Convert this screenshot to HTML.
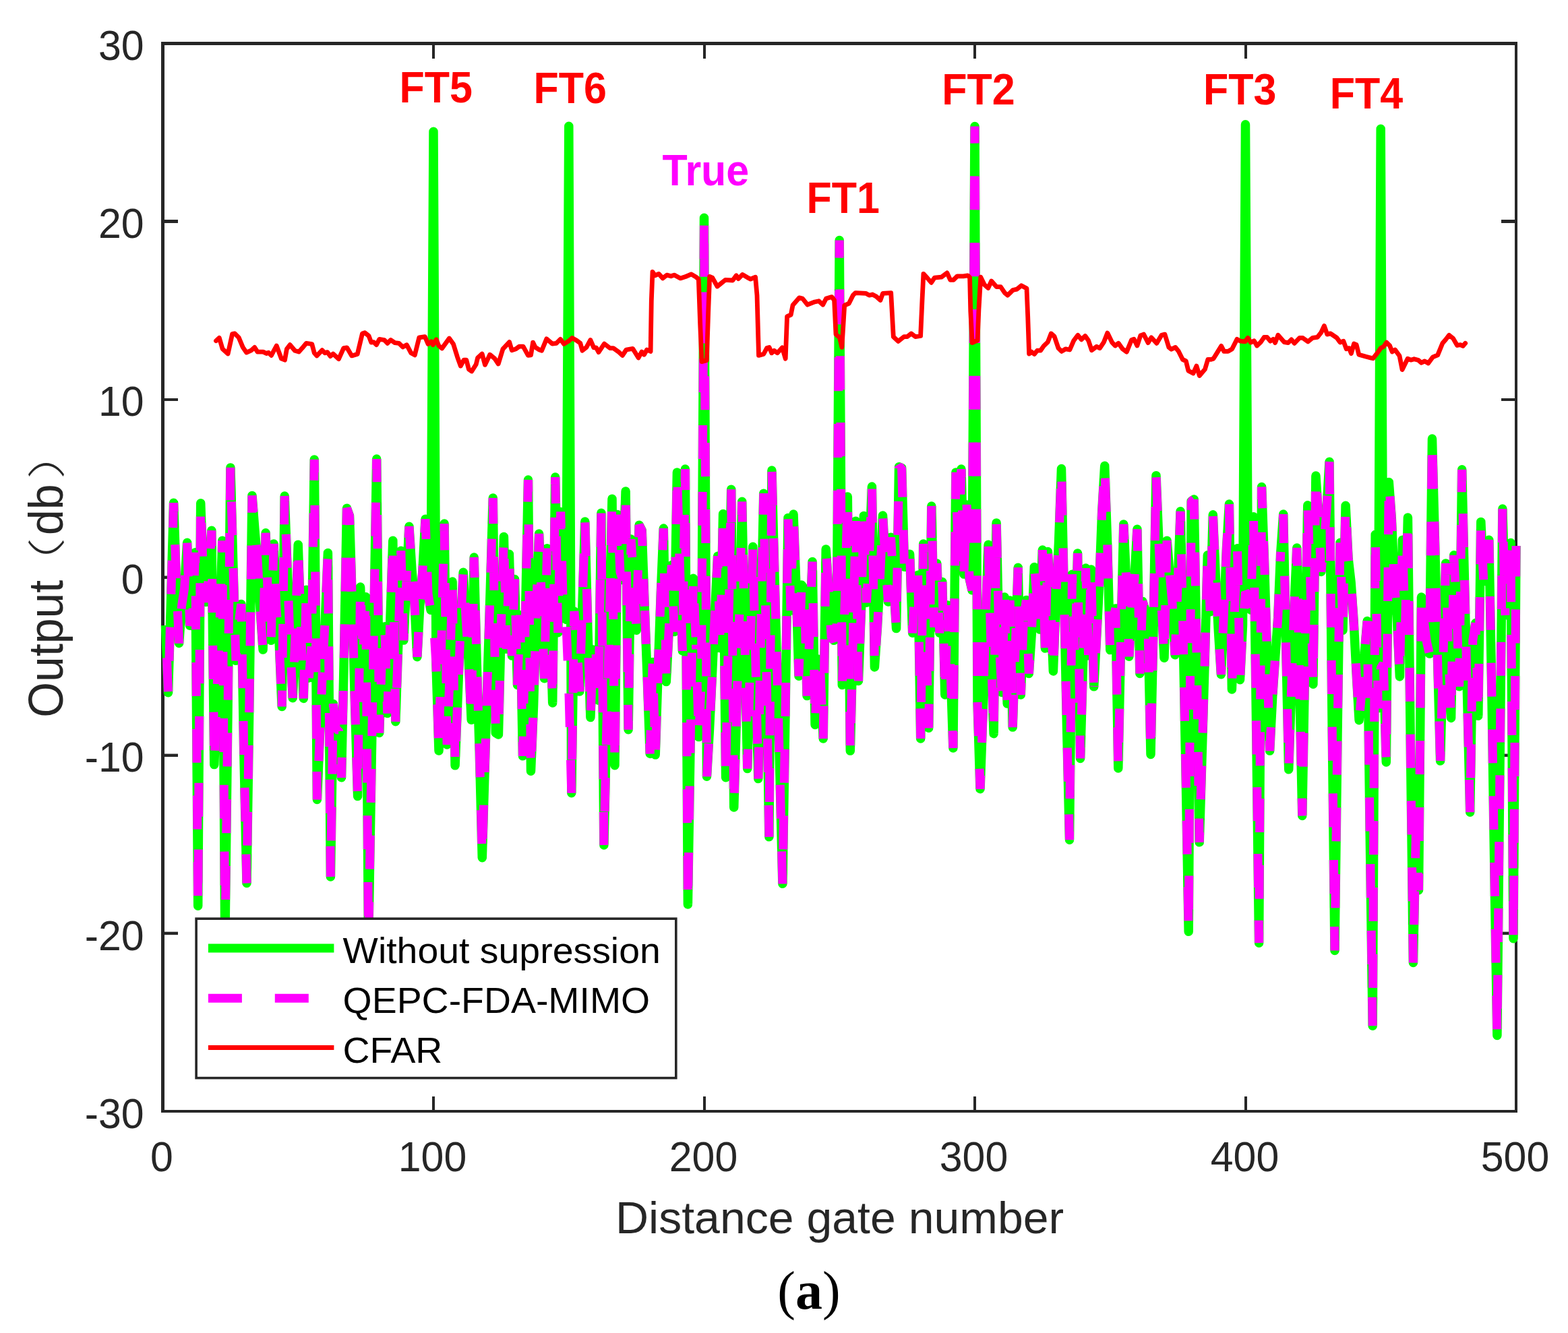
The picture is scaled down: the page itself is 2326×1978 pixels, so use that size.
<!DOCTYPE html>
<html lang="en">
<head>
<meta charset="utf-8">
<title>Output vs distance gate number</title>
<style>
html,body{margin:0;padding:0;background:#fff;}
body{width:2326px;height:1978px;overflow:hidden;}
svg{display:block;}
text{font-family:"Liberation Sans","Noto Sans CJK SC",sans-serif;}
.tk{font-size:63px;fill:#262626;}
.lb{font-size:67.3px;fill:#262626;}
.yl{fill:#262626;}
.lg{font-size:54px;fill:#000;}
.an{font-size:64px;font-weight:bold;}
.cap{font-family:"Liberation Serif","DejaVu Serif",serif;font-size:80px;fill:#000;}
</style>
</head>
<body>
<svg width="2326" height="1978" viewBox="0 0 2326 1978">
<rect x="0" y="0" width="2326" height="1978" fill="#ffffff"/>

<g fill="#262626" shape-rendering="crispEdges">
<rect x="239" y="62" width="5" height="1589"/>
<rect x="239" y="62" width="2012" height="5"/>
<rect x="2247" y="62" width="4" height="1589"/>
<rect x="239" y="1647" width="2012" height="4"/>
<rect x="641" y="1627" width="4" height="20"/>
<rect x="641" y="67" width="4" height="20"/>
<rect x="1043" y="1627" width="4" height="20"/>
<rect x="1043" y="67" width="4" height="20"/>
<rect x="1444" y="1627" width="4" height="20"/>
<rect x="1444" y="67" width="4" height="20"/>
<rect x="1846" y="1627" width="4" height="20"/>
<rect x="1846" y="67" width="4" height="20"/>
<rect x="244" y="591" width="20" height="4"/>
<rect x="2227" y="591" width="20" height="4"/>
<rect x="244" y="326" width="20" height="5"/>
<rect x="2227" y="326" width="20" height="5"/>
</g>
<g fill="#262626">
<rect x="244" y="1382.67" width="20" height="4.5"/>
<rect x="2227" y="1382.67" width="20" height="4.5"/>
<rect x="244" y="1118.58" width="20" height="4.5"/>
<rect x="2227" y="1118.58" width="20" height="4.5"/>
<rect x="244" y="854.50" width="20" height="4.5"/>
<rect x="2227" y="854.50" width="20" height="4.5"/>
</g>
<path d="M245.5 928.1L249.5 1027.8L253.5 894.4L257.6 746.2L261.6 865.1L265.6 954.5L269.6 898.4L273.6 873.1L277.6 805.3L281.6 928.2L285.7 914.7L289.7 819.7L293.7 1344.3L297.7 746.7L301.7 857.8L305.7 893.4L309.8 856.2L313.8 787.2L317.8 1134.6L321.8 1026.6L325.8 931.1L329.8 802.2L333.8 1398.1L337.9 1063.3L341.9 693.9L345.9 840.3L349.9 980.3L353.9 924.5L357.9 896.4L361.9 1119.4L366.0 1310.5L370.0 1034.6L374.0 735.4L378.0 787.2L382.0 830.8L386.0 903.7L390.1 964.1L394.1 790.8L398.1 904.4L402.1 950.3L406.1 807.0L410.1 906.6L414.1 952.8L418.2 1048.5L422.2 736.1L426.2 844.9L430.2 950.9L434.2 1035.7L438.2 938.1L442.2 808.2L446.3 930.4L450.3 1036.4L454.3 875.2L458.3 1005.9L462.3 955.5L466.3 681.9L470.4 1186.4L474.4 1091.5L478.4 997.6L482.4 917.3L486.4 820.5L490.4 1300.9L494.4 1044.4L498.5 1082.8L502.5 1083.1L506.5 1153.8L510.5 966.4L514.5 754.2L518.5 765.5L522.5 896.6L526.6 1045.9L530.6 1181.6L534.6 871.1L538.6 976.7L542.6 885.8L546.6 1398.1L550.7 1155.5L554.7 922.1L558.7 681.1L562.7 1087.5L566.7 968.8L570.7 929.7L574.7 1058.6L578.8 922.0L582.8 802.2L586.8 1070.7L590.8 954.8L594.8 817.3L598.8 950.1L602.9 862.5L606.9 781.2L610.9 844.6L614.9 894.4L618.9 974.7L622.9 896.9L626.9 847.4L631.0 770.3L635.0 881.4L639.0 905.2L643.0 195.2L647.0 986.5L651.0 1114.1L655.0 946.0L659.1 777.1L663.1 1104.9L667.1 1003.5L671.1 863.1L675.1 1135.8L679.1 1033.1L683.1 933.5L687.2 849.2L691.2 919.1L695.2 979.4L699.2 1068.3L703.2 827.0L707.2 983.4L711.3 1115.9L715.3 1272.7L719.3 1135.3L723.3 1002.5L727.3 874.3L731.3 739.0L735.3 1087.5L739.4 1090.0L743.4 928.8L747.4 796.4L751.4 963.0L755.4 822.2L759.4 973.0L763.5 859.5L767.5 1016.4L771.5 912.8L775.5 1121.8L779.5 909.9L783.5 712.0L787.5 1144.2L791.6 1045.4L795.6 900.9L799.6 792.0L803.6 893.2L807.6 1006.8L811.6 813.7L815.6 907.5L819.7 1042.9L823.7 708.1L827.7 938.8L831.7 759.5L835.7 911.3L839.7 919.3L843.8 187.3L847.8 1176.7L851.8 907.1L855.8 958.3L859.8 1026.1L863.8 901.6L867.8 773.9L871.9 933.3L875.9 1064.6L879.9 964.0L883.9 968.6L887.9 1039.3L891.9 761.2L895.9 1253.9L900.0 1071.3L904.0 927.1L908.0 740.2L912.0 1135.8L916.0 763.6L920.0 849.2L924.0 860.6L928.1 728.9L932.1 1082.7L936.1 800.1L940.1 862.8L944.1 935.2L948.1 779.2L952.2 787.2L956.2 899.7L960.2 1005.9L964.2 1118.4L968.2 982.4L972.2 1120.1L976.2 994.6L980.3 880.7L984.3 784.1L988.3 1011.6L992.3 934.4L996.3 838.6L1000.3 937.5L1004.4 700.9L1008.4 839.3L1012.4 965.8L1016.4 696.1L1020.4 1341.9L1024.4 1083.9L1028.4 858.3L1032.5 956.6L1036.5 1093.6L1040.5 1007.3L1044.5 323.3L1048.5 1152.2L1052.5 1081.8L1056.5 1000.0L1060.6 907.6L1064.6 825.3L1068.6 961.7L1072.6 762.6L1076.6 1153.8L1080.6 936.3L1084.7 726.2L1088.7 1198.0L1092.7 1056.8L1096.7 916.5L1100.7 744.3L1104.7 945.9L1108.7 1140.6L1112.8 981.5L1116.8 811.3L1120.8 980.6L1124.8 1155.5L1128.8 924.7L1132.8 732.2L1136.8 979.0L1140.9 1241.8L1144.9 698.0L1148.9 850.7L1152.9 999.7L1156.9 1150.5L1160.9 1311.3L1165.0 1058.7L1169.0 768.4L1173.0 905.7L1177.0 763.1L1181.0 871.3L1185.0 1003.2L1189.0 867.9L1193.1 873.9L1197.1 1032.6L1201.1 937.6L1205.1 833.5L1209.1 1075.5L1213.1 977.9L1217.1 1001.3L1221.2 1096.0L1225.2 814.9L1229.2 875.0L1233.2 946.5L1237.2 950.3L1241.2 929.8L1245.2 356.6L1249.3 1016.4L1253.3 891.0L1257.3 737.1L1261.3 1114.1L1265.3 950.4L1269.3 773.2L1273.4 1010.4L1277.4 906.9L1281.4 765.5L1285.4 894.2L1289.4 829.3L1293.4 722.1L1297.4 989.9L1301.5 929.7L1305.5 856.8L1309.5 765.0L1313.5 834.8L1317.5 893.0L1321.5 797.3L1325.5 865.4L1329.6 932.6L1333.6 692.7L1337.6 694.4L1341.6 841.2L1345.6 826.8L1349.6 822.2L1353.7 939.3L1357.7 861.5L1361.7 853.3L1365.7 1096.0L1369.7 807.0L1373.7 950.1L1377.7 1080.3L1381.8 751.0L1385.8 930.8L1389.8 835.9L1393.8 939.3L1397.8 863.5L1401.8 1030.9L1405.8 898.1L1409.9 989.3L1413.9 1110.0L1417.9 700.9L1421.9 845.6L1425.9 696.1L1429.9 852.0L1434.0 749.1L1438.0 858.0L1442.0 875.7L1446.0 187.6L1450.0 1041.4L1454.0 1170.7L1458.0 1059.8L1462.1 915.1L1466.1 808.2L1470.1 962.8L1474.1 1088.7L1478.1 775.9L1482.1 953.9L1486.2 1027.4L1490.2 886.0L1494.2 1044.1L1498.2 890.9L1502.2 1079.1L1506.2 959.4L1510.2 842.2L1514.3 1030.9L1518.3 921.9L1522.3 890.5L1526.3 999.5L1530.3 940.5L1534.3 841.4L1538.3 886.5L1542.4 934.0L1546.4 816.1L1550.4 962.1L1554.4 818.5L1558.4 891.9L1562.4 995.9L1566.5 887.5L1570.5 805.8L1574.5 695.6L1578.5 884.8L1582.5 1076.7L1586.5 1246.2L1590.5 852.3L1594.6 979.5L1598.6 821.0L1602.6 1125.4L1606.6 982.9L1610.6 843.1L1614.6 972.8L1618.6 845.1L1622.7 1018.8L1626.7 944.1L1630.7 866.7L1634.7 760.0L1638.7 691.3L1642.7 807.4L1646.8 964.6L1650.8 918.9L1654.8 902.9L1658.8 1139.9L1662.8 946.0L1666.8 778.0L1670.8 862.7L1674.9 974.2L1678.9 901.1L1682.9 859.8L1686.9 785.3L1690.9 999.5L1694.9 892.5L1698.9 905.4L1703.0 931.2L1707.0 1119.4L1711.0 932.5L1715.0 705.7L1719.0 805.2L1723.0 896.2L1727.0 976.2L1731.1 802.2L1735.1 850.6L1739.1 896.0L1743.1 971.8L1747.1 867.5L1751.1 758.8L1755.2 948.1L1759.2 1153.8L1763.2 1382.3L1767.2 743.8L1771.2 740.9L1775.2 976.1L1779.2 1249.8L1783.3 1113.5L1787.3 977.6L1791.3 823.8L1795.3 907.8L1799.3 763.8L1803.3 855.6L1807.3 934.3L1811.4 1000.8L1815.4 911.3L1819.4 815.4L1823.4 748.1L1827.4 1022.9L1831.4 903.9L1835.5 813.7L1839.5 1008.7L1843.5 927.3L1847.5 184.7L1851.5 882.6L1855.5 905.0L1859.5 766.7L1863.6 1076.2L1867.6 1399.2L1871.6 722.6L1875.6 835.8L1879.6 971.6L1883.6 1114.1L1887.7 1033.3L1891.7 974.6L1895.7 917.1L1899.7 821.1L1903.7 763.1L1907.7 959.5L1911.7 1141.8L1915.8 1019.5L1919.8 902.7L1923.8 813.0L1927.8 1016.1L1931.8 1210.5L1935.8 984.3L1939.8 749.8L1943.9 863.6L1947.9 1015.2L1951.9 706.0L1955.9 767.7L1959.9 848.4L1963.9 807.9L1968.0 755.4L1972.0 685.2L1976.0 1062.6L1980.0 1410.5L1984.0 1090.8L1988.0 805.3L1992.0 935.2L1996.1 750.3L2000.1 829.0L2004.1 863.9L2008.1 921.1L2012.1 998.4L2016.1 1068.7L2020.1 1026.0L2024.2 968.5L2028.2 921.5L2032.2 1237.5L2036.2 1522.2L2040.2 793.2L2044.2 1051.0L2048.2 191.3L2052.3 984.8L2056.3 1130.9L2060.3 715.4L2064.3 769.2L2068.3 862.4L2072.3 916.0L2076.4 1003.9L2080.4 801.2L2084.4 932.7L2088.4 767.9L2092.4 1110.4L2096.4 1428.5L2100.4 1234.9L2104.5 1320.9L2108.5 886.0L2112.5 922.8L2116.5 953.1L2120.5 970.1L2124.5 651.0L2128.6 806.7L2132.6 979.8L2136.6 1129.0L2140.6 985.9L2144.6 835.9L2148.6 966.2L2152.6 1065.4L2156.7 823.8L2160.7 904.0L2164.7 1018.8L2168.7 696.8L2172.7 872.4L2176.7 1037.5L2180.7 1205.2L2184.8 950.0L2188.8 924.6L2192.8 1062.2L2196.8 774.4L2200.8 862.9L2204.8 835.4L2208.8 801.2L2212.9 1028.6L2216.9 1291.3L2220.9 1536.5L2224.9 1144.5L2228.9 755.1L2232.9 913.0L2237.0 873.0L2241.0 805.5L2245.0 1392.8L2249.0 810.0" fill="none" stroke="#00ff00" stroke-width="13.5" stroke-linejoin="round" stroke-linecap="butt"/>
<g fill="none" stroke="#ff00ff" stroke-width="13" stroke-linejoin="bevel" stroke-linecap="butt" stroke-dasharray="50.0 48.8">
<path d="M245.5 928.1L249.5 1027.8L253.5 894.4L257.6 746.2L261.6 865.1L265.6 954.5L269.6 898.4L273.6 873.1L277.6 805.3L281.6 928.2L285.7 914.7L289.7 819.7L293.7 1344.3L297.7 746.7L301.7 857.8L305.7 893.4L309.8 856.2L313.8 787.2L317.8 1134.6L321.8 1026.6L325.8 931.1L329.8 802.2" stroke-dashoffset="50.5"/>
<path d="M329.8 802.2L333.8 1398.1L337.9 1063.3L341.9 693.9L345.9 840.3L349.9 980.3L353.9 924.5L357.9 896.4L361.9 1119.4L366.0 1310.5L370.0 1034.6L374.0 735.4L378.0 787.2L382.0 830.8L386.0 903.7L390.1 964.1L394.1 790.8L398.1 904.4L402.1 950.3L406.1 807.0L410.1 906.6L414.1 952.8L418.2 1048.5" stroke-dashoffset="32.6"/>
<path d="M418.2 1048.5L422.2 736.1L426.2 844.9L430.2 950.9L434.2 1035.7L438.2 938.1L442.2 808.2L446.3 930.4L450.3 1036.4L454.3 875.2L458.3 1005.9L462.3 955.5L466.3 681.9L470.4 1186.4L474.4 1091.5L478.4 997.6" stroke-dashoffset="26.1"/>
<path d="M478.4 997.6L482.4 917.3L486.4 820.5L490.4 1300.9L494.4 1044.4L498.5 1082.8L502.5 1083.1L506.5 1153.8L510.5 966.4L514.5 754.2L518.5 765.5L522.5 896.6L526.6 1045.9L530.6 1181.6L534.6 871.1L538.6 976.7L542.6 885.8L546.6 1398.1L550.7 1155.5L554.7 922.1L558.7 681.1L562.7 1087.5L566.7 968.8L570.7 929.7L574.7 1058.6L578.8 922.0L582.8 802.2L586.8 1070.7L590.8 954.8L594.8 817.3L598.8 950.1L602.9 862.5" stroke-dashoffset="79.2"/>
<path d="M602.9 862.5L606.9 781.2L610.9 844.6L614.9 894.4L618.9 974.7L622.9 896.9L626.9 847.4L631.0 770.3L635.0 881.4L639.0 905.2L643.0 919.4L647.0 986.5L651.0 1114.1L655.0 946.0L659.1 777.1L663.1 1104.9L667.1 1003.5L671.1 863.1L675.1 1135.8L679.1 1033.1L683.1 933.5L687.2 849.2L691.2 919.1L695.2 979.4L699.2 1068.3L703.2 827.0L707.2 983.4L711.3 1115.9L715.3 1272.7L719.3 1135.3L723.3 1002.5L727.3 874.3L731.3 739.0L735.3 1087.5L739.4 1090.0L743.4 928.8L747.4 796.4L751.4 963.0L755.4 822.2L759.4 973.0L763.5 859.5L767.5 1016.4L771.5 912.8L775.5 1121.8L779.5 909.9" stroke-dashoffset="34.2"/>
<path d="M779.5 909.9L783.5 712.0L787.5 1144.2L791.6 1045.4L795.6 900.9L799.6 792.0L803.6 893.2L807.6 1006.8L811.6 813.7L815.6 907.5L819.7 1042.9L823.7 708.1L827.7 938.8L831.7 759.5L835.7 911.3L839.7 919.3L843.8 1021.6L847.8 1176.7L851.8 907.1L855.8 958.3L859.8 1026.1L863.8 901.6L867.8 773.9L871.9 933.3" stroke-dashoffset="32.2"/>
<path d="M871.9 933.3L875.9 1064.6L879.9 964.0L883.9 968.6L887.9 1039.3L891.9 761.2L895.9 1253.9L900.0 1071.3L904.0 927.1L908.0 740.2L912.0 1135.8L916.0 763.6L920.0 849.2L924.0 860.6L928.1 728.9L932.1 1082.7L936.1 800.1L940.1 862.8L944.1 935.2L948.1 779.2L952.2 787.2L956.2 899.7" stroke-dashoffset="56.0"/>
<path d="M956.2 899.7L960.2 1005.9L964.2 1118.4L968.2 982.4L972.2 1120.1L976.2 994.6L980.3 880.7L984.3 784.1L988.3 1011.6L992.3 934.4L996.3 838.6L1000.3 937.5L1004.4 700.9L1008.4 839.3L1012.4 965.8L1016.4 696.1L1020.4 1341.9L1024.4 1083.9L1028.4 858.3L1032.5 956.6" stroke-dashoffset="92.6"/>
<path d="M1032.5 956.6L1036.5 1093.6L1040.5 1007.3L1044.5 323.3L1048.5 1152.2L1052.5 1081.8L1056.5 1000.0L1060.6 907.6L1064.6 825.3L1068.6 961.7L1072.6 762.6L1076.6 1153.8L1080.6 936.3L1084.7 726.2L1088.7 1198.0L1092.7 1056.8" stroke-dashoffset="43.1"/>
<path d="M1092.7 1056.8L1096.7 916.5L1100.7 744.3L1104.7 945.9L1108.7 1140.6L1112.8 981.5L1116.8 811.3L1120.8 980.6L1124.8 1155.5L1128.8 924.7L1132.8 732.2L1136.8 979.0L1140.9 1241.8L1144.9 698.0L1148.9 850.7" stroke-dashoffset="3.7"/>
<path d="M1148.9 850.7L1152.9 999.7L1156.9 1150.5L1160.9 1311.3L1165.0 1058.7L1169.0 768.4L1173.0 905.7L1177.0 763.1L1181.0 871.3L1185.0 1003.2L1189.0 867.9L1193.1 873.9L1197.1 1032.6L1201.1 937.6" stroke-dashoffset="81.2"/>
<path d="M1201.1 937.6L1205.1 833.5L1209.1 1075.5L1213.1 977.9L1217.1 1001.3L1221.2 1096.0L1225.2 814.9L1229.2 875.0L1233.2 946.5L1237.2 950.3L1241.2 929.8L1245.2 356.6L1249.3 1016.4L1253.3 891.0L1257.3 737.1L1261.3 1114.1L1265.3 950.4L1269.3 773.2L1273.4 1010.4L1277.4 906.9L1281.4 765.5L1285.4 894.2L1289.4 829.3L1293.4 722.1L1297.4 989.9L1301.5 929.7L1305.5 856.8L1309.5 765.0L1313.5 834.8L1317.5 893.0L1321.5 797.3L1325.5 865.4L1329.6 932.6L1333.6 692.7L1337.6 694.4L1341.6 841.2L1345.6 826.8" stroke-dashoffset="31.8"/>
<path d="M1345.6 826.8L1349.6 822.2L1353.7 939.3L1357.7 861.5L1361.7 853.3L1365.7 1096.0L1369.7 807.0L1373.7 950.1L1377.7 1080.3L1381.8 751.0L1385.8 930.8L1389.8 835.9L1393.8 939.3L1397.8 863.5L1401.8 1030.9L1405.8 898.1L1409.9 989.3L1413.9 1110.0L1417.9 700.9L1421.9 845.6L1425.9 696.1L1429.9 852.0L1434.0 749.1L1438.0 858.0L1442.0 875.7L1446.0 187.6L1450.0 1041.4" stroke-dashoffset="85.6"/>
<path d="M1450.0 1041.4L1454.0 1170.7L1458.0 1059.8L1462.1 915.1L1466.1 808.2L1470.1 962.8L1474.1 1088.7L1478.1 775.9L1482.1 953.9L1486.2 1027.4L1490.2 886.0L1494.2 1044.1L1498.2 890.9L1502.2 1079.1L1506.2 959.4L1510.2 842.2L1514.3 1030.9L1518.3 921.9" stroke-dashoffset="98.2"/>
<path d="M1518.3 921.9L1522.3 890.5L1526.3 999.5L1530.3 940.5L1534.3 841.4L1538.3 886.5L1542.4 934.0L1546.4 816.1L1550.4 962.1L1554.4 818.5L1558.4 891.9L1562.4 995.9L1566.5 887.5L1570.5 805.8L1574.5 695.6L1578.5 884.8L1582.5 1076.7L1586.5 1246.2L1590.5 852.3L1594.6 979.5L1598.6 821.0L1602.6 1125.4L1606.6 982.9L1610.6 843.1L1614.6 972.8L1618.6 845.1L1622.7 1018.8" stroke-dashoffset="86.4"/>
<path d="M1622.7 1018.8L1626.7 944.1L1630.7 866.7L1634.7 760.0L1638.7 691.3L1642.7 807.4L1646.8 964.6L1650.8 918.9L1654.8 902.9L1658.8 1139.9L1662.8 946.0L1666.8 778.0L1670.8 862.7L1674.9 974.2L1678.9 901.1L1682.9 859.8L1686.9 785.3L1690.9 999.5L1694.9 892.5L1698.9 905.4L1703.0 931.2L1707.0 1119.4L1711.0 932.5" stroke-dashoffset="49.0"/>
<path d="M1711.0 932.5L1715.0 705.7L1719.0 805.2L1723.0 896.2L1727.0 976.2L1731.1 802.2L1735.1 850.6L1739.1 896.0L1743.1 971.8L1747.1 867.5L1751.1 758.8L1755.2 948.1L1759.2 1153.8L1763.2 1382.3L1767.2 743.8L1771.2 740.9" stroke-dashoffset="67.1"/>
<path d="M1771.2 740.9L1775.2 976.1L1779.2 1249.8L1783.3 1113.5L1787.3 977.6L1791.3 823.8L1795.3 907.8L1799.3 763.8L1803.3 855.6L1807.3 934.3L1811.4 1000.8L1815.4 911.3L1819.4 815.4L1823.4 748.1" stroke-dashoffset="20.2"/>
<path d="M1823.4 748.1L1827.4 1022.9L1831.4 903.9L1835.5 813.7L1839.5 1008.7L1843.5 927.3L1847.5 878.6L1851.5 882.6L1855.5 905.0L1859.5 766.7L1863.6 1076.2L1867.6 1399.2L1871.6 722.6L1875.6 835.8L1879.6 971.6L1883.6 1114.1L1887.7 1033.3L1891.7 974.6L1895.7 917.1L1899.7 821.1" stroke-dashoffset="5.3"/>
<path d="M1899.7 821.1L1903.7 763.1L1907.7 959.5L1911.7 1141.8L1915.8 1019.5L1919.8 902.7L1923.8 813.0L1927.8 1016.1L1931.8 1210.5L1935.8 984.3L1939.8 749.8L1943.9 863.6L1947.9 1015.2L1951.9 706.0L1955.9 767.7" stroke-dashoffset="47.9"/>
<path d="M1955.9 767.7L1959.9 848.4L1963.9 807.9L1968.0 755.4L1972.0 685.2L1976.0 1062.6L1980.0 1410.5L1984.0 1090.8L1988.0 805.3L1992.0 935.2L1996.1 750.3L2000.1 829.0L2004.1 863.9L2008.1 921.1" stroke-dashoffset="53.7"/>
<path d="M2008.1 921.1L2012.1 998.4L2016.1 1068.7L2020.1 1026.0L2024.2 968.5L2028.2 921.5L2032.2 1237.5L2036.2 1522.2L2040.2 793.2L2044.2 1051.0L2048.2 991.5L2052.3 984.8L2056.3 1130.9L2060.3 715.4L2064.3 769.2" stroke-dashoffset="35.4"/>
<path d="M2064.3 769.2L2068.3 862.4L2072.3 916.0L2076.4 1003.9L2080.4 801.2L2084.4 932.7L2088.4 767.9L2092.4 1110.4L2096.4 1428.5L2100.4 1234.9L2104.5 1320.9L2108.5 886.0L2112.5 922.8L2116.5 953.1L2120.5 970.1L2124.5 651.0L2128.6 806.7L2132.6 979.8L2136.6 1129.0" stroke-dashoffset="30.9"/>
<path d="M2136.6 1129.0L2140.6 985.9L2144.6 835.9L2148.6 966.2L2152.6 1065.4L2156.7 823.8L2160.7 904.0L2164.7 1018.8L2168.7 696.8L2172.7 872.4L2176.7 1037.5L2180.7 1205.2L2184.8 950.0L2188.8 924.6L2192.8 1062.2L2196.8 774.4L2200.8 862.9" stroke-dashoffset="36.2"/>
<path d="M2200.8 862.9L2204.8 835.4L2208.8 801.2L2212.9 1028.6L2216.9 1291.3L2220.9 1536.5L2224.9 1144.5L2228.9 755.1L2232.9 913.0" stroke-dashoffset="51.8"/>
<path d="M2232.9 913.0L2237.0 873.0L2241.0 805.5L2245.0 1392.8L2249.0 810.0" stroke-dashoffset="52.0"/>
</g>
<path d="M320.5 505.7L325.3 501.4L330.1 517.8L338.1 525.0L344.6 495.6L348.2 494.9L354.2 500.9L360.3 515.4L365.6 523.1L372.3 520.2L377.6 515.4L382.0 522.1L390.4 522.1L395.2 524.5L398.4 523.3L402.5 527.4L410.2 513.0L417.4 532.2L422.5 534.2L425.4 517.8L430.2 511.7L437.4 520.2L443.4 522.1L448.3 516.6L454.3 509.3L462.7 510.5L466.3 523.8L470.0 527.9L477.9 519.7L482.0 523.8L485.6 522.6L490.0 528.6L494.1 525.0L502.5 532.7L509.7 516.6L514.6 515.8L521.8 527.9L530.2 525.5L537.5 494.9L541.1 493.7L547.1 498.5L550.7 508.1L554.3 507.6L558.4 511.7L562.8 503.3L570.0 504.5L574.8 509.3L579.7 504.5L585.7 508.6L591.7 509.3L597.7 514.9L603.3 511.7L609.8 523.8L615.3 526.9L621.8 500.9L630.3 499.7L635.1 510.5L639.9 506.9L642.3 511.7L647.2 503.8L650.8 513.0L655.6 517.0L666.4 502.1L672.5 510.5L678.5 529.8L683.3 543.1L688.1 534.2L691.8 534.2L695.4 547.9L699.7 551.0L706.2 540.7L708.6 531.0L715.1 525.0L719.5 541.4L726.7 526.2L733.9 532.2L739.2 540.0L746.0 517.8L755.6 507.6L759.3 519.7L765.3 517.8L770.1 514.2L776.1 514.2L783.4 527.4L787.5 526.9L790.6 508.1L794.2 515.4L800.0 519.0L803.6 520.2L810.8 502.8L819.3 510.1L825.3 509.3L831.3 503.3L836.6 510.5L843.4 506.2L848.7 501.4L855.4 505.2L860.8 509.3L863.9 520.2L869.9 515.4L875.9 504.5L880.8 515.8L884.4 515.8L888.0 522.6L896.4 510.1L904.9 516.6L909.7 516.6L918.1 522.6L923.4 527.4L929.0 519.0L938.6 517.3L947.1 531.0L951.9 522.1L955.5 526.2L959.6 519.0L965.1 521.4L966.3 446.7L968.0 403.3L971.6 408.8L977.2 406.4L983.2 412.9L989.2 408.1L995.3 409.8L1000.1 408.1L1009.3 412.9L1017.0 410.5L1025.4 406.9L1032.6 411.2L1036.3 414.1L1038.7 481.6L1041.1 536.6L1048.3 534.6L1050.7 462.3L1052.7 410.5L1056.8 412.2L1064.0 425.0L1076.0 415.3L1086.9 416.0L1092.2 408.8L1095.3 413.6L1101.4 407.4L1108.6 411.7L1113.4 414.1L1120.6 411.2L1123.0 438.2L1125.5 527.4L1132.7 525.5L1137.5 516.6L1141.1 515.4L1144.7 523.8L1148.4 520.2L1153.2 523.8L1160.4 515.8L1165.2 532.2L1167.6 469.6L1173.2 467.1L1176.1 452.7L1185.7 441.8L1190.5 443.0L1197.8 452.2L1207.4 448.3L1214.7 446.7L1220.7 452.2L1225.5 443.0L1233.9 440.6L1237.6 445.4L1240.0 496.1L1245.5 500.9L1248.9 515.4L1252.7 453.2L1259.3 450.3L1265.3 438.2L1268.9 434.6L1284.6 435.3L1289.4 438.2L1294.2 437.0L1300.0 440.1L1306.0 445.4L1309.6 435.3L1321.7 434.6L1325.3 499.7L1332.5 506.4L1341.0 499.7L1345.8 499.7L1351.8 494.9L1357.9 499.7L1365.6 498.5L1368.0 445.4L1369.9 406.4L1375.9 412.9L1381.5 419.4L1386.3 412.2L1396.4 411.2L1404.9 404.9L1409.7 415.3L1414.5 415.3L1420.1 409.8L1429.0 409.8L1435.5 408.8L1438.6 411.7L1439.8 462.3L1442.2 508.6L1450.0 505.2L1451.9 459.9L1454.8 411.2L1460.3 422.5L1465.9 427.4L1470.7 417.0L1478.4 425.7L1484.4 425.7L1490.5 434.6L1494.8 438.2L1502.5 430.5L1508.5 429.1L1515.0 423.8L1523.0 428.1L1524.7 469.6L1526.6 525.0L1530.2 522.1L1534.3 525.5L1538.7 520.2L1543.5 520.2L1548.3 513.4L1554.3 507.6L1559.2 494.9L1564.0 499.0L1570.0 516.6L1574.8 521.4L1580.9 517.8L1586.9 519.0L1592.9 505.2L1598.9 497.3L1604.2 503.8L1609.8 498.5L1614.6 505.2L1619.4 519.7L1626.7 514.2L1631.5 516.6L1637.5 507.6L1642.8 494.1L1649.6 508.1L1654.4 513.0L1659.2 509.3L1665.2 517.8L1671.3 522.1L1678.5 504.5L1682.1 503.3L1686.9 513.0L1691.8 498.0L1696.6 496.1L1703.1 508.6L1707.9 500.9L1715.9 509.3L1723.1 497.3L1727.9 496.1L1733.9 515.4L1737.6 518.3L1743.6 515.4L1748.4 521.4L1754.4 533.4L1759.3 535.9L1762.9 550.3L1770.1 553.9L1774.9 543.1L1779.3 557.6L1787.5 547.9L1791.8 533.4L1796.6 533.4L1800.0 532.2L1806.0 522.6L1811.6 513.4L1815.7 521.4L1821.7 521.4L1827.7 517.8L1835.0 503.3L1839.8 506.2L1847.0 506.9L1851.1 501.4L1855.4 508.1L1860.3 505.7L1864.6 513.0L1869.9 508.1L1875.2 500.4L1879.6 500.4L1884.4 506.2L1888.7 503.3L1891.6 508.6L1895.9 497.3L1904.9 507.6L1910.9 508.6L1915.7 503.8L1920.1 509.3L1927.8 501.4L1932.6 501.4L1940.3 506.9L1947.1 501.4L1954.3 500.4L1959.6 493.7L1964.4 483.5L1968.8 496.1L1973.6 494.9L1983.2 501.4L1988.0 508.1L1992.9 506.2L1997.2 517.8L2001.3 516.6L2004.4 524.5L2008.5 510.1L2012.2 511.7L2015.8 526.2L2026.6 529.3L2036.7 531.8L2042.3 525.0L2048.3 516.6L2052.7 514.2L2056.8 508.1L2061.6 513.0L2065.2 522.1L2069.5 519.0L2076.0 527.9L2080.1 548.6L2088.1 532.2L2092.9 534.2L2097.7 532.7L2104.2 534.6L2108.6 538.3L2113.4 535.9L2118.7 539.0L2125.5 529.8L2132.7 526.9L2139.9 509.3L2144.7 503.8L2149.6 497.3L2155.6 502.1L2161.6 512.5L2166.4 511.7L2170.1 513.4L2173.7 509.3" fill="none" stroke="#ff0000" stroke-width="6.8" stroke-linejoin="round" stroke-linecap="round"/>
<text class="tk" transform="translate(240.00,1738.40) scale(0.965,1)" text-anchor="middle">0</text>
<text class="tk" transform="translate(641.50,1738.40) scale(0.965,1)" text-anchor="middle">100</text>
<text class="tk" transform="translate(1043.50,1738.40) scale(0.965,1)" text-anchor="middle">200</text>
<text class="tk" transform="translate(1444.50,1738.40) scale(0.965,1)" text-anchor="middle">300</text>
<text class="tk" transform="translate(1846.50,1738.40) scale(0.965,1)" text-anchor="middle">400</text>
<text class="tk" transform="translate(2247.50,1738.40) scale(0.965,1)" text-anchor="middle">500</text>
<text class="tk" transform="translate(213.60,1673.60) scale(0.965,1)" text-anchor="end">-30</text>
<text class="tk" transform="translate(213.60,1409.52) scale(0.965,1)" text-anchor="end">-20</text>
<text class="tk" transform="translate(213.60,1145.43) scale(0.965,1)" text-anchor="end">-10</text>
<text class="tk" transform="translate(213.60,881.35) scale(0.965,1)" text-anchor="end">0</text>
<text class="tk" transform="translate(213.60,617.27) scale(0.965,1)" text-anchor="end">10</text>
<text class="tk" transform="translate(213.60,353.18) scale(0.965,1)" text-anchor="end">20</text>
<text class="tk" transform="translate(213.60,89.10) scale(0.965,1)" text-anchor="end">30</text>
<text class="lb" transform="translate(1245.60,1829.70) scale(1.0104,1)" text-anchor="middle">Distance gate number</text>
<text class="yl" transform="translate(93.4,0) rotate(-90)"><tspan x="-1064.70" y="0.00" font-size="72px" font-weight="400" textLength="203.82" lengthAdjust="spacingAndGlyphs">Output</tspan><tspan x="-881.70" y="-3.60" font-size="56px" font-weight="300" textLength="84.00" lengthAdjust="spacingAndGlyphs">（</tspan><tspan x="-794.00" y="0.00" font-size="72px" font-weight="400" textLength="75.53" lengthAdjust="spacingAndGlyphs">db</tspan><tspan x="-711.00" y="-3.60" font-size="56px" font-weight="300" textLength="84.00" lengthAdjust="spacingAndGlyphs">）</tspan></text>
<rect x="291.1" y="1363.2" width="711.7" height="236.4" fill="#ffffff" stroke="#262626" stroke-width="3.6"/>
<line x1="308.9" y1="1407.1" x2="495.4" y2="1407.1" stroke="#00ff00" stroke-width="13"/>
<line x1="308.9" y1="1481.2" x2="495.4" y2="1481.2" stroke="#ff00ff" stroke-width="13" stroke-dasharray="50 48.9"/>
<line x1="308.9" y1="1554.5" x2="495.4" y2="1554.5" stroke="#ff0000" stroke-width="7"/>
<text class="lg" transform="translate(508.60,1428.70) scale(1.0264,1)">Without supression</text>
<text class="lg" transform="translate(508.60,1503.00) scale(1.0264,1)">QEPC-FDA-MIMO</text>
<text class="lg" transform="translate(508.60,1577.00) scale(1.0264,1)">CFAR</text>
<text class="an" transform="translate(592.60,152.00) scale(0.953,1)" fill="#ff0000">FT5</text>
<text class="an" transform="translate(791.60,153.20) scale(0.953,1)" fill="#ff0000">FT6</text>
<text class="an" transform="translate(982.50,274.90) scale(0.953,1)" fill="#ff00ff">True</text>
<text class="an" transform="translate(1196.50,316.00) scale(0.953,1)" fill="#ff0000">FT1</text>
<text class="an" transform="translate(1397.30,154.50) scale(0.953,1)" fill="#ff0000">FT2</text>
<text class="an" transform="translate(1785.00,154.50) scale(0.953,1)" fill="#ff0000">FT3</text>
<text class="an" transform="translate(1972.80,161.10) scale(0.953,1)" fill="#ff0000">FT4</text>
<text class="cap" x="1200" y="1942.3" text-anchor="middle">(<tspan font-weight="bold">a</tspan>)</text>
</svg>
</body>
</html>
